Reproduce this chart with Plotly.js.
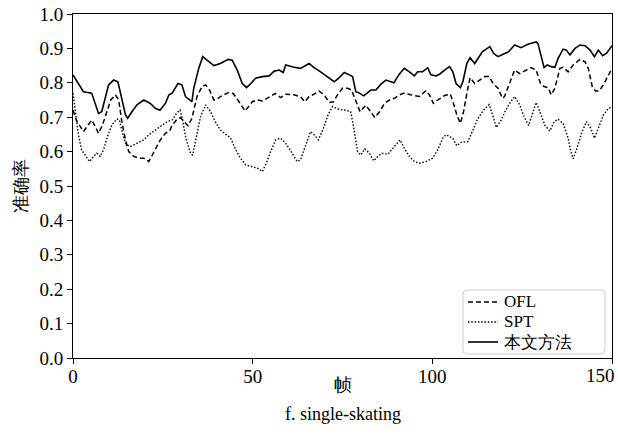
<!DOCTYPE html>
<html>
<head>
<meta charset="utf-8">
<script src="https://cdn.plot.ly/plotly-3.0.1.min.js"></script>
<style>html,body{margin:0;padding:0;background:#fff;}#chart{width:618px;height:440px;}</style>
</head>
<body>
<div id="chart"></div>
<script>
// 本文方法 (solid)
const oursX = [0, 2.9, 5.2, 7.1, 8, 9.9, 11.3, 12.5, 14.6, 15.2, 16.4, 17.8, 19.7, 21.5, 22.9, 24.2, 25.7, 26.7, 27.6, 29.2, 30.3, 31.3, 33.1, 33.6, 35, 36.1, 37.3, 39.2, 41, 43.2, 44.3, 45.7, 47.1, 48.3, 49.5, 50.8, 52.7, 54.6, 56, 57.4, 58.5, 59.2, 61.5, 63.3, 65.7, 67.1, 68.9, 70.8, 72.7, 74.1, 75.5, 76.9, 77.8, 78.7, 79.7, 80.9, 82, 82.9, 84.3, 85.7, 87.1, 89.3, 90.8, 92.2, 93.6, 95, 95.9, 97.3, 98.7, 99.6, 101, 102, 103.4, 104.8, 105.7, 106.6, 107.8, 108.5, 109.6, 110.5, 111.8, 112.7, 113.9, 115, 116, 117.1, 118.3, 119.7, 121.2, 122.9, 124.7, 126.6, 128.9, 129.4, 131.1, 132, 133.1, 134.1, 135, 136.4, 137.3, 138.3, 139.7, 141.1, 142.5, 143.9, 145.1, 146.2, 147.4, 148.5, 150];
const oursY = [0.823, 0.774, 0.77, 0.711, 0.716, 0.794, 0.808, 0.803, 0.707, 0.697, 0.716, 0.736, 0.75, 0.74, 0.726, 0.72, 0.74, 0.765, 0.77, 0.798, 0.794, 0.76, 0.745, 0.784, 0.842, 0.876, 0.866, 0.85, 0.856, 0.868, 0.866, 0.837, 0.798, 0.786, 0.798, 0.813, 0.818, 0.82, 0.834, 0.837, 0.83, 0.852, 0.845, 0.842, 0.856, 0.844, 0.832, 0.818, 0.803, 0.815, 0.83, 0.823, 0.818, 0.774, 0.77, 0.762, 0.77, 0.779, 0.779, 0.796, 0.808, 0.8, 0.825, 0.842, 0.832, 0.82, 0.832, 0.832, 0.844, 0.823, 0.82, 0.825, 0.837, 0.847, 0.832, 0.798, 0.786, 0.803, 0.856, 0.873, 0.856, 0.871, 0.89, 0.898, 0.905, 0.885, 0.876, 0.883, 0.89, 0.91, 0.902, 0.912, 0.919, 0.914, 0.844, 0.852, 0.847, 0.845, 0.871, 0.898, 0.895, 0.881, 0.9, 0.91, 0.908, 0.895, 0.876, 0.895, 0.879, 0.886, 0.908];

// OFL (dashed)
const oflX = [0, 1, 2.9, 4.3, 5.2, 6.2, 7.1, 8.2, 9.4, 10.5, 11.8, 12.7, 13.6, 14.6, 15.5, 16.9, 18.3, 19.7, 21.1, 22, 23.2, 24.3, 25.7, 26.9, 27.6, 28.8, 29.9, 31, 32, 33.1, 34.5, 35.9, 36.9, 38, 39.2, 40.1, 41.5, 43.4, 44.6, 46.2, 47.9, 49.9, 51.3, 52.7, 54.6, 56.3, 57.8, 59.2, 61.5, 63.3, 64.5, 65.7, 67.1, 68.5, 69.9, 71.3, 72.5, 73.6, 75, 76.4, 77.5, 78.7, 79.9, 81.5, 82.7, 84, 85.3, 86.7, 88.1, 89.5, 90.8, 92.2, 94, 96.4, 98.2, 99.2, 100.3, 101.5, 103.4, 105, 105.9, 106.8, 107.8, 108.7, 109.6, 110.5, 111.8, 113.2, 114.6, 115.8, 116.9, 118.3, 119.5, 120.1, 121.5, 122.9, 124.3, 125.7, 127.5, 128.9, 130.1, 131.1, 132.2, 133.1, 134.1, 135.5, 136.4, 137.8, 139.2, 141.1, 142.5, 143.4, 144.5, 145.4, 146.4, 147.6, 149, 150];
const oflY = [0.72, 0.69, 0.658, 0.677, 0.692, 0.673, 0.653, 0.677, 0.716, 0.75, 0.765, 0.75, 0.687, 0.634, 0.6, 0.586, 0.581, 0.581, 0.571, 0.59, 0.615, 0.634, 0.653, 0.66, 0.677, 0.692, 0.699, 0.685, 0.675, 0.697, 0.76, 0.789, 0.794, 0.779, 0.75, 0.753, 0.763, 0.772, 0.769, 0.745, 0.718, 0.745, 0.75, 0.747, 0.76, 0.769, 0.757, 0.767, 0.765, 0.76, 0.745, 0.76, 0.767, 0.776, 0.765, 0.743, 0.745, 0.765, 0.784, 0.784, 0.779, 0.75, 0.716, 0.735, 0.716, 0.699, 0.716, 0.74, 0.75, 0.755, 0.765, 0.77, 0.765, 0.76, 0.777, 0.765, 0.74, 0.75, 0.763, 0.767, 0.74, 0.707, 0.682, 0.716, 0.769, 0.815, 0.798, 0.808, 0.818, 0.818, 0.798, 0.784, 0.755, 0.76, 0.798, 0.837, 0.827, 0.834, 0.844, 0.837, 0.798, 0.789, 0.786, 0.765, 0.784, 0.842, 0.845, 0.832, 0.852, 0.868, 0.861, 0.842, 0.789, 0.776, 0.776, 0.794, 0.823, 0.842];

// SPT (dotted)
const sptX = [0, 1, 1.5, 2.4, 3.8, 4.6, 5.7, 6.6, 7.6, 8.5, 9.6, 10.8, 12.2, 12.9, 13.9, 14.8, 16, 17.8, 19.7, 21.1, 22.5, 23.6, 24.8, 26.2, 27.6, 28.8, 29.8, 30.5, 31.4, 32.7, 33.3, 34.2, 35.5, 36.9, 38.3, 39.6, 41, 42.5, 43.8, 45.3, 46.6, 48.1, 49.4, 51.3, 52.7, 53.8, 55, 56.4, 57.8, 59.2, 61, 62.4, 63.3, 64.7, 66.1, 67.1, 68.3, 69.7, 71, 72.2, 73.6, 75.5, 77.3, 78.3, 79.2, 80.1, 81.2, 82.5, 83.7, 84.8, 86, 87.6, 89, 91, 92.2, 93.6, 95, 96.4, 98.2, 100.1, 101.5, 102.9, 103.8, 105.7, 106.8, 108, 109.9, 111.3, 112.7, 114.3, 115.8, 116.9, 117.8, 119.2, 120.1, 121.5, 122.9, 124.3, 125.5, 126.8, 128, 128.9, 129.9, 131.3, 132.7, 133.9, 135, 136.4, 137.8, 138.5, 139.2, 140.1, 141.5, 142.9, 144.1, 145.1, 146.2, 147.6, 149, 149.7];
const sptY = [0.77, 0.697, 0.649, 0.605, 0.581, 0.571, 0.586, 0.595, 0.586, 0.605, 0.644, 0.677, 0.695, 0.692, 0.649, 0.62, 0.615, 0.624, 0.634, 0.649, 0.66, 0.668, 0.677, 0.687, 0.692, 0.711, 0.721, 0.692, 0.639, 0.595, 0.59, 0.639, 0.702, 0.736, 0.716, 0.687, 0.663, 0.65, 0.641, 0.605, 0.581, 0.561, 0.557, 0.552, 0.542, 0.566, 0.6, 0.634, 0.639, 0.624, 0.595, 0.571, 0.576, 0.62, 0.658, 0.649, 0.634, 0.668, 0.707, 0.731, 0.724, 0.721, 0.716, 0.658, 0.6, 0.59, 0.608, 0.595, 0.573, 0.586, 0.595, 0.592, 0.61, 0.634, 0.61, 0.586, 0.571, 0.566, 0.571, 0.581, 0.605, 0.639, 0.649, 0.639, 0.617, 0.627, 0.629, 0.663, 0.697, 0.721, 0.737, 0.702, 0.67, 0.692, 0.714, 0.74, 0.76, 0.736, 0.702, 0.676, 0.716, 0.743, 0.716, 0.677, 0.66, 0.687, 0.694, 0.682, 0.639, 0.602, 0.579, 0.605, 0.653, 0.687, 0.668, 0.639, 0.668, 0.706, 0.726, 0.728];

const seriesNames = ['OFL', 'SPT', '本文方法'];
const xTicks = [0, 50, 100, 150];
const yTicks = [0.0, 0.1, 0.2, 0.3, 0.4, 0.5, 0.6, 0.7, 0.8, 0.9, 1.0];
const xLabel = '帧';
const yLabel = '准确率';
const caption = 'f. single-skating';

const FONT = 'Liberation Serif';
const BLACK = '#000';
const lineStyles = [
  {color: BLACK, width: 1.5, dash: '5px,3px'},
  {color: BLACK, width: 1.4, dash: '1.5px,1.8px'},
  {color: BLACK, width: 1.6, dash: 'solid'}
];
const seriesX = [oflX, sptX, oursX];
const seriesY = [oflY, sptY, oursY];

const traces = seriesNames.map((n, i) => ({
  x: seriesX[i], y: seriesY[i], name: n, mode: 'lines', line: lineStyles[i], showlegend: false
}));

const axisCommon = {
  showgrid: false, zeroline: false, showline: true, linecolor: BLACK, linewidth: 1,
  mirror: true, ticks: 'outside', ticklen: 5, tickwidth: 1, tickcolor: BLACK,
  tickfont: {family: FONT, size: 19, color: BLACK}, automargin: false
};

// legend box (drawn in paper coordinates), compact like the reference
const lg = {x0: 0.7236, x1: 0.987, y0: 0.0116, y1: 0.1977, lineX0: 0.7328, lineX1: 0.7885, textX: 0.7978,
            rows: [0.1628, 0.1047, 0.0465]};
const rx = 4 / 539, ry = 4 / 344;
const boxPath = `M ${lg.x0 + rx} ${lg.y0} L ${lg.x1 - rx} ${lg.y0} Q ${lg.x1} ${lg.y0} ${lg.x1} ${lg.y0 + ry} ` +
  `L ${lg.x1} ${lg.y1 - ry} Q ${lg.x1} ${lg.y1} ${lg.x1 - rx} ${lg.y1} L ${lg.x0 + rx} ${lg.y1} ` +
  `Q ${lg.x0} ${lg.y1} ${lg.x0} ${lg.y1 - ry} L ${lg.x0} ${lg.y0 + ry} Q ${lg.x0} ${lg.y0} ${lg.x0 + rx} ${lg.y0} Z`;

const shapes = [
  {type: 'path', xref: 'paper', yref: 'paper', path: boxPath, fillcolor: 'rgba(255,255,255,0.85)',
   line: {color: '#cccccc', width: 1}, layer: 'above'}
].concat(seriesNames.map((n, i) => ({
  type: 'line', xref: 'paper', yref: 'paper', x0: lg.lineX0, x1: lg.lineX1, y0: lg.rows[i], y1: lg.rows[i],
  line: lineStyles[i], layer: 'above'
})));

const tickLabelY = -0.052;
const annotations = [
  {text: yLabel, xref: 'paper', yref: 'paper', x: -0.097, y: 0.5, xanchor: 'center', yanchor: 'middle',
   textangle: -90, showarrow: false, font: {family: FONT, size: 18, color: BLACK}},
  {text: xLabel, xref: 'paper', yref: 'paper', x: 0.5, y: -0.078, xanchor: 'center', yanchor: 'middle',
   showarrow: false, font: {family: FONT, size: 18, color: BLACK}},
  {text: caption, xref: 'paper', yref: 'paper', x: 0.5, y: -0.163, xanchor: 'center', yanchor: 'middle',
   showarrow: false, font: {family: FONT, size: 18, color: BLACK}},
  // last x tick label, kept inside the picture like in the reference
  {text: String(xTicks[3]), xref: 'x', yref: 'paper', x: xTicks[3], y: tickLabelY, xanchor: 'right', xshift: 5,
   yanchor: 'middle', showarrow: false, font: {family: FONT, size: 19, color: BLACK}}
].concat(seriesNames.map((n, i) => ({
  text: n, xref: 'paper', yref: 'paper', x: lg.textX, y: lg.rows[i], xanchor: 'left', yanchor: 'middle',
  showarrow: false, borderpad: 0, font: {family: FONT, size: 17, color: BLACK}
})));

const layout = {
  width: 618, height: 440,
  margin: {l: 73, r: 6, t: 14, b: 82},
  paper_bgcolor: '#fff', plot_bgcolor: '#fff',
  font: {family: FONT, color: BLACK},
  xaxis: Object.assign({}, axisCommon, {range: [0, 150], tickvals: xTicks,
    ticktext: xTicks.map((v, i) => i === xTicks.length - 1 ? ' ' : String(v)), ticklabelstandoff: -4}),
  yaxis: Object.assign({}, axisCommon, {range: [0, 1], tickvals: yTicks, ticktext: yTicks.map(v => v.toFixed(1))}),
  showlegend: false,
  shapes: shapes,
  annotations: annotations
};

Plotly.newPlot('chart', traces, layout, {displayModeBar: false, staticPlot: true});
</script>
</body>
</html>
